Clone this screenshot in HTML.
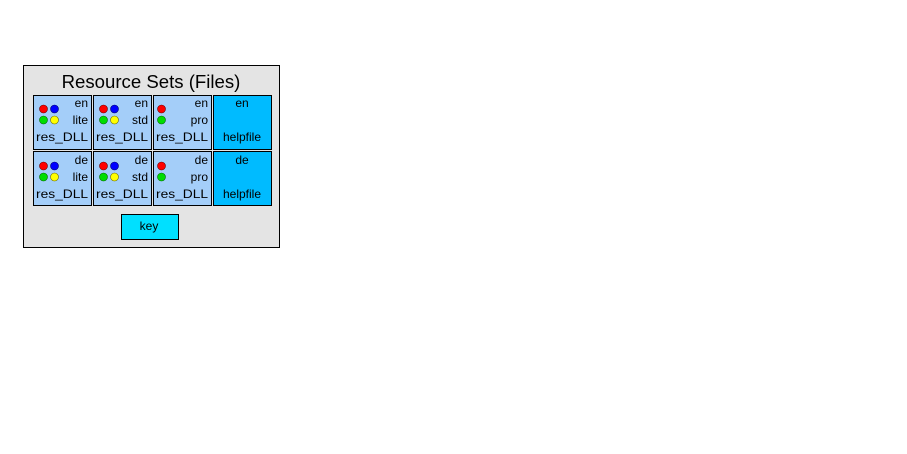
<!DOCTYPE html>
<html><head><style>
html,body{margin:0;padding:0;background:#fff;width:907px;height:454px;overflow:hidden}
svg text{font-family:"Liberation Sans",sans-serif}
</style></head><body>
<svg width="907" height="454" xmlns="http://www.w3.org/2000/svg">
<rect x="23.5" y="65.5" width="256" height="182" fill="#e4e4e4" stroke="#000"/>
<text x="151" y="88" font-size="18.6" text-anchor="middle">Resource Sets (Files)</text>
<g font-size="12">
<rect x="33.5" y="95.5" width="58" height="54" fill="#a4cef9" stroke="#000"/>
<text x="88" y="107" text-anchor="end">en</text><text x="88" y="124" text-anchor="end">lite</text><text x="36" y="141" textLength="52" lengthAdjust="spacingAndGlyphs">res_DLL</text>
<circle cx="43.5" cy="109" r="4" fill="#f00" stroke="#600" stroke-width=".6"/><circle cx="54.5" cy="109" r="4" fill="#00f" stroke="#006" stroke-width=".6"/>
<circle cx="43.5" cy="120" r="4" fill="#0d0" stroke="#060" stroke-width=".6"/><circle cx="54.5" cy="120" r="4" fill="#ff0" stroke="#660" stroke-width=".6"/>

<rect x="93.5" y="95.5" width="58" height="54" fill="#a4cef9" stroke="#000"/>
<text x="148" y="107" text-anchor="end">en</text><text x="148" y="124" text-anchor="end">std</text><text x="96" y="141" textLength="52" lengthAdjust="spacingAndGlyphs">res_DLL</text>
<circle cx="103.5" cy="109" r="4" fill="#f00" stroke="#600" stroke-width=".6"/><circle cx="114.5" cy="109" r="4" fill="#00f" stroke="#006" stroke-width=".6"/>
<circle cx="103.5" cy="120" r="4" fill="#0d0" stroke="#060" stroke-width=".6"/><circle cx="114.5" cy="120" r="4" fill="#ff0" stroke="#660" stroke-width=".6"/>

<rect x="153.5" y="95.5" width="58" height="54" fill="#a4cef9" stroke="#000"/>
<text x="208" y="107" text-anchor="end">en</text><text x="208" y="124" text-anchor="end">pro</text><text x="156" y="141" textLength="52" lengthAdjust="spacingAndGlyphs">res_DLL</text>
<circle cx="161.5" cy="109" r="4" fill="#f00" stroke="#600" stroke-width=".6"/>
<circle cx="161.5" cy="120" r="4" fill="#0d0" stroke="#060" stroke-width=".6"/>

<rect x="213.5" y="95.5" width="58" height="54" fill="#00bbff" stroke="#000"/>
<text x="242" y="107" text-anchor="middle">en</text><text x="242" y="141" text-anchor="middle">helpfile</text>

<rect x="33.5" y="151.5" width="58" height="54" fill="#a4cef9" stroke="#000"/>
<text x="88" y="164" text-anchor="end">de</text><text x="88" y="181" text-anchor="end">lite</text><text x="36" y="198" textLength="52" lengthAdjust="spacingAndGlyphs">res_DLL</text>
<circle cx="43.5" cy="166" r="4" fill="#f00" stroke="#600" stroke-width=".6"/><circle cx="54.5" cy="166" r="4" fill="#00f" stroke="#006" stroke-width=".6"/>
<circle cx="43.5" cy="177" r="4" fill="#0d0" stroke="#060" stroke-width=".6"/><circle cx="54.5" cy="177" r="4" fill="#ff0" stroke="#660" stroke-width=".6"/>

<rect x="93.5" y="151.5" width="58" height="54" fill="#a4cef9" stroke="#000"/>
<text x="148" y="164" text-anchor="end">de</text><text x="148" y="181" text-anchor="end">std</text><text x="96" y="198" textLength="52" lengthAdjust="spacingAndGlyphs">res_DLL</text>
<circle cx="103.5" cy="166" r="4" fill="#f00" stroke="#600" stroke-width=".6"/><circle cx="114.5" cy="166" r="4" fill="#00f" stroke="#006" stroke-width=".6"/>
<circle cx="103.5" cy="177" r="4" fill="#0d0" stroke="#060" stroke-width=".6"/><circle cx="114.5" cy="177" r="4" fill="#ff0" stroke="#660" stroke-width=".6"/>

<rect x="153.5" y="151.5" width="58" height="54" fill="#a4cef9" stroke="#000"/>
<text x="208" y="164" text-anchor="end">de</text><text x="208" y="181" text-anchor="end">pro</text><text x="156" y="198" textLength="52" lengthAdjust="spacingAndGlyphs">res_DLL</text>
<circle cx="161.5" cy="166" r="4" fill="#f00" stroke="#600" stroke-width=".6"/>
<circle cx="161.5" cy="177" r="4" fill="#0d0" stroke="#060" stroke-width=".6"/>

<rect x="213.5" y="151.5" width="58" height="54" fill="#00bbff" stroke="#000"/>
<text x="242" y="164" text-anchor="middle">de</text><text x="242" y="198" text-anchor="middle">helpfile</text>

<rect x="121.5" y="214.5" width="57" height="25" fill="#00e0ff" stroke="#000"/>
<text x="149" y="230" text-anchor="middle">key</text>
</g>
</svg>
</body></html>
